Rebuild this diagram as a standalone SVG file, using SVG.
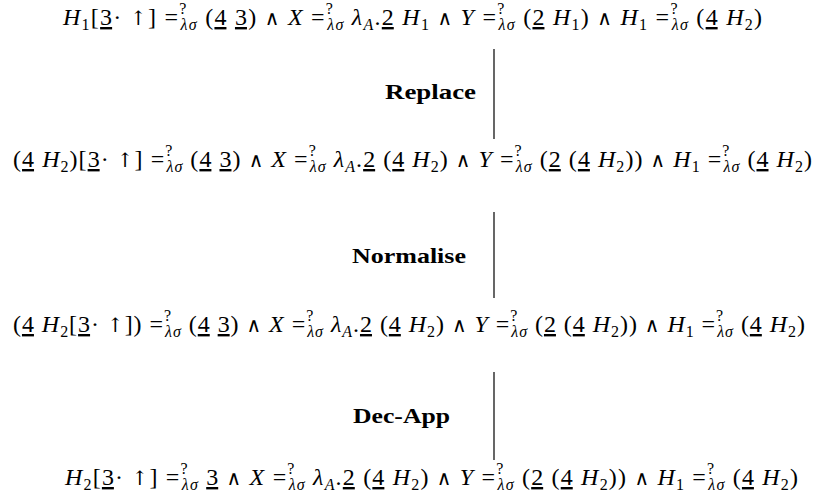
<svg xmlns="http://www.w3.org/2000/svg" width="820" height="502" viewBox="0 0 820 502">
  <style>
    .m { font-family: "Liberation Serif", "DejaVu Serif", serif; font-size: 24px; fill: #000; }
    .i { font-style: italic; }
    .s { font-size: 16px; }
    .u { text-decoration: underline; }
    .o { font-family: "DejaVu Serif", serif; font-size: 20px; font-style: normal; }
    .lbl { font-family: "Liberation Serif", "DejaVu Serif", serif; font-weight: bold; font-size: 21px; fill: #000; }
    .step { stroke: #000; stroke-width: 1.2; fill: none; }
  </style>
  <rect width="820" height="502" fill="#fff"/>

  <!-- constraint set before the Replace step -->
  <g id="expr1">
    <text class="m" x="63" y="25" textLength="699" lengthAdjust="spacing"><tspan class="i">H</tspan><tspan class="s" dy="5">1</tspan><tspan dy="-5">[</tspan><tspan class="u">3</tspan><tspan>· </tspan><tspan class="o">↑</tspan><tspan>] =</tspan><tspan class="s" dy="-11">?</tspan><tspan class="s i" dx="-7" dy="16">λσ</tspan><tspan dy="-5"> (</tspan><tspan class="u">4</tspan><tspan> </tspan><tspan class="u">3</tspan><tspan>) </tspan><tspan class="o">∧</tspan><tspan> </tspan><tspan class="i">X</tspan><tspan> =</tspan><tspan class="s" dy="-11">?</tspan><tspan class="s i" dx="-7" dy="16">λσ</tspan><tspan class="i" dy="-5"> λ</tspan><tspan class="s i" dy="5">A</tspan><tspan dy="-5">.</tspan><tspan class="u">2</tspan><tspan> </tspan><tspan class="i">H</tspan><tspan class="s" dy="5">1</tspan><tspan dy="-5"> </tspan><tspan class="o">∧</tspan><tspan> </tspan><tspan class="i">Y</tspan><tspan> =</tspan><tspan class="s" dy="-11">?</tspan><tspan class="s i" dx="-7" dy="16">λσ</tspan><tspan dy="-5"> (</tspan><tspan class="u">2</tspan><tspan> </tspan><tspan class="i">H</tspan><tspan class="s" dy="5">1</tspan><tspan dy="-5">) </tspan><tspan class="o">∧</tspan><tspan> </tspan><tspan class="i">H</tspan><tspan class="s" dy="5">1</tspan><tspan dy="-5"> =</tspan><tspan class="s" dy="-11">?</tspan><tspan class="s i" dx="-7" dy="16">λσ</tspan><tspan dy="-5"> (</tspan><tspan class="u">4</tspan><tspan> </tspan><tspan class="i">H</tspan><tspan class="s" dy="5">2</tspan><tspan dy="-5">)</tspan></text>
  </g>

  <!-- after Replace -->
  <g id="expr2">
    <text class="m" x="13" y="167" textLength="799" lengthAdjust="spacing"><tspan>(</tspan><tspan class="u">4</tspan><tspan> </tspan><tspan class="i">H</tspan><tspan class="s" dy="5">2</tspan><tspan dy="-5">)[</tspan><tspan class="u">3</tspan><tspan>· </tspan><tspan class="o">↑</tspan><tspan>] =</tspan><tspan class="s" dy="-11">?</tspan><tspan class="s i" dx="-7" dy="16">λσ</tspan><tspan dy="-5"> (</tspan><tspan class="u">4</tspan><tspan> </tspan><tspan class="u">3</tspan><tspan>) </tspan><tspan class="o">∧</tspan><tspan> </tspan><tspan class="i">X</tspan><tspan> =</tspan><tspan class="s" dy="-11">?</tspan><tspan class="s i" dx="-7" dy="16">λσ</tspan><tspan class="i" dy="-5"> λ</tspan><tspan class="s i" dy="5">A</tspan><tspan dy="-5">.</tspan><tspan class="u">2</tspan><tspan> (</tspan><tspan class="u">4</tspan><tspan> </tspan><tspan class="i">H</tspan><tspan class="s" dy="5">2</tspan><tspan dy="-5">) </tspan><tspan class="o">∧</tspan><tspan> </tspan><tspan class="i">Y</tspan><tspan> =</tspan><tspan class="s" dy="-11">?</tspan><tspan class="s i" dx="-7" dy="16">λσ</tspan><tspan dy="-5"> (</tspan><tspan class="u">2</tspan><tspan> (</tspan><tspan class="u">4</tspan><tspan> </tspan><tspan class="i">H</tspan><tspan class="s" dy="5">2</tspan><tspan dy="-5">)) </tspan><tspan class="o">∧</tspan><tspan> </tspan><tspan class="i">H</tspan><tspan class="s" dy="5">1</tspan><tspan dy="-5"> =</tspan><tspan class="s" dy="-11">?</tspan><tspan class="s i" dx="-7" dy="16">λσ</tspan><tspan dy="-5"> (</tspan><tspan class="u">4</tspan><tspan> </tspan><tspan class="i">H</tspan><tspan class="s" dy="5">2</tspan><tspan dy="-5">)</tspan></text>
  </g>

  <!-- after Normalise -->
  <g id="expr3">
    <text class="m" x="13" y="332" textLength="792" lengthAdjust="spacing"><tspan>(</tspan><tspan class="u">4</tspan><tspan> </tspan><tspan class="i">H</tspan><tspan class="s" dy="5">2</tspan><tspan dy="-5">[</tspan><tspan class="u">3</tspan><tspan>· </tspan><tspan class="o">↑</tspan><tspan>]) =</tspan><tspan class="s" dy="-11">?</tspan><tspan class="s i" dx="-7" dy="16">λσ</tspan><tspan dy="-5"> (</tspan><tspan class="u">4</tspan><tspan> </tspan><tspan class="u">3</tspan><tspan>) </tspan><tspan class="o">∧</tspan><tspan> </tspan><tspan class="i">X</tspan><tspan> =</tspan><tspan class="s" dy="-11">?</tspan><tspan class="s i" dx="-7" dy="16">λσ</tspan><tspan class="i" dy="-5"> λ</tspan><tspan class="s i" dy="5">A</tspan><tspan dy="-5">.</tspan><tspan class="u">2</tspan><tspan> (</tspan><tspan class="u">4</tspan><tspan> </tspan><tspan class="i">H</tspan><tspan class="s" dy="5">2</tspan><tspan dy="-5">) </tspan><tspan class="o">∧</tspan><tspan> </tspan><tspan class="i">Y</tspan><tspan> =</tspan><tspan class="s" dy="-11">?</tspan><tspan class="s i" dx="-7" dy="16">λσ</tspan><tspan dy="-5"> (</tspan><tspan class="u">2</tspan><tspan> (</tspan><tspan class="u">4</tspan><tspan> </tspan><tspan class="i">H</tspan><tspan class="s" dy="5">2</tspan><tspan dy="-5">)) </tspan><tspan class="o">∧</tspan><tspan> </tspan><tspan class="i">H</tspan><tspan class="s" dy="5">1</tspan><tspan dy="-5"> =</tspan><tspan class="s" dy="-11">?</tspan><tspan class="s i" dx="-7" dy="16">λσ</tspan><tspan dy="-5"> (</tspan><tspan class="u">4</tspan><tspan> </tspan><tspan class="i">H</tspan><tspan class="s" dy="5">2</tspan><tspan dy="-5">)</tspan></text>
  </g>

  <!-- after Dec-App -->
  <g id="expr4">
    <text class="m" x="65" y="485" textLength="733" lengthAdjust="spacing"><tspan class="i">H</tspan><tspan class="s" dy="5">2</tspan><tspan dy="-5">[</tspan><tspan class="u">3</tspan><tspan>· </tspan><tspan class="o">↑</tspan><tspan>] =</tspan><tspan class="s" dy="-11">?</tspan><tspan class="s i" dx="-7" dy="16">λσ</tspan><tspan dy="-5"> </tspan><tspan class="u">3</tspan><tspan> </tspan><tspan class="o">∧</tspan><tspan> </tspan><tspan class="i">X</tspan><tspan> =</tspan><tspan class="s" dy="-11">?</tspan><tspan class="s i" dx="-7" dy="16">λσ</tspan><tspan class="i" dy="-5"> λ</tspan><tspan class="s i" dy="5">A</tspan><tspan dy="-5">.</tspan><tspan class="u">2</tspan><tspan> (</tspan><tspan class="u">4</tspan><tspan> </tspan><tspan class="i">H</tspan><tspan class="s" dy="5">2</tspan><tspan dy="-5">) </tspan><tspan class="o">∧</tspan><tspan> </tspan><tspan class="i">Y</tspan><tspan> =</tspan><tspan class="s" dy="-11">?</tspan><tspan class="s i" dx="-7" dy="16">λσ</tspan><tspan dy="-5"> (</tspan><tspan class="u">2</tspan><tspan> (</tspan><tspan class="u">4</tspan><tspan> </tspan><tspan class="i">H</tspan><tspan class="s" dy="5">2</tspan><tspan dy="-5">)) </tspan><tspan class="o">∧</tspan><tspan> </tspan><tspan class="i">H</tspan><tspan class="s" dy="5">1</tspan><tspan dy="-5"> =</tspan><tspan class="s" dy="-11">?</tspan><tspan class="s i" dx="-7" dy="16">λσ</tspan><tspan dy="-5"> (</tspan><tspan class="u">4</tspan><tspan> </tspan><tspan class="i">H</tspan><tspan class="s" dy="5">2</tspan><tspan dy="-5">)</tspan></text>
  </g>

  <!-- rewrite steps -->
  <g id="steps">
    <line class="step" x1="494" y1="49" x2="494" y2="139"/>
    <text class="lbl" x="385" y="99" textLength="91" lengthAdjust="spacingAndGlyphs">Replace</text>
    <line class="step" x1="494" y1="212" x2="494" y2="298"/>
    <text class="lbl" x="352" y="263" textLength="114" lengthAdjust="spacingAndGlyphs">Normalise</text>
    <line class="step" x1="494" y1="372" x2="494" y2="460"/>
    <text class="lbl" x="353" y="423" textLength="97" lengthAdjust="spacingAndGlyphs">Dec-App</text>
  </g>
</svg>
